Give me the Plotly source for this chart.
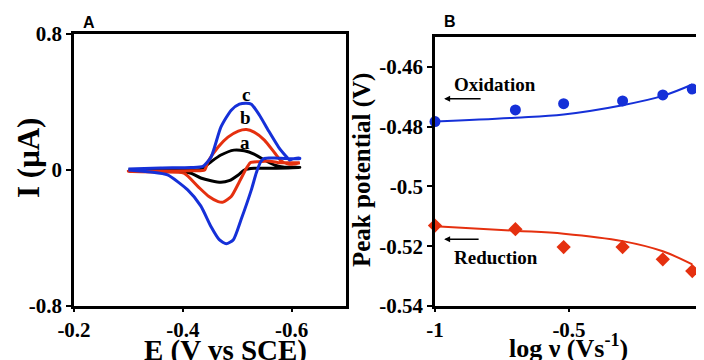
import plotly.graph_objects as go

# ---------- Panel A: cyclic voltammograms ----------
E_a = [-0.300, -0.415, -0.433, -0.452, -0.470, -0.494, -0.513, -0.531, -0.550, -0.569, -0.587, -0.615,
       -0.615, -0.557, -0.531, -0.513, -0.502, -0.485, -0.470, -0.452, -0.433, -0.415, -0.387, -0.300]
I_a = [0.000, 0.000, 0.003, 0.049, 0.088, 0.117, 0.113, 0.094, 0.059, 0.029, 0.016, 0.016,
       0.015, 0.010, 0.010, 0.000, -0.029, -0.063, -0.072, -0.063, -0.047, -0.019, -0.006, -0.003]

E_b = [-0.300, -0.359, -0.415, -0.440, -0.446, -0.465, -0.483, -0.502, -0.517, -0.531, -0.550, -0.569,
       -0.581, -0.594, -0.604, -0.615,
       -0.615, -0.576, -0.557, -0.539, -0.524, -0.517, -0.504, -0.489, -0.474, -0.465, -0.448, -0.428,
       -0.402, -0.359, -0.300]
I_b = [-0.009, -0.006, -0.004, 0.000, 0.047, 0.135, 0.193, 0.229, 0.238, 0.223, 0.176, 0.100,
       0.053, 0.035, 0.035, 0.043,
       0.043, 0.043, 0.053, 0.049, 0.043, 0.010, -0.069, -0.156, -0.189, -0.186, -0.156, -0.098,
       -0.019, -0.012, -0.009]

E_c = [-0.300, -0.359, -0.415, -0.437, -0.452, -0.470, -0.489, -0.504, -0.517, -0.526, -0.541, -0.557,
       -0.576, -0.591, -0.596, -0.604, -0.615,
       -0.615, -0.591, -0.569, -0.550, -0.543, -0.535, -0.526, -0.507, -0.493, -0.480, -0.467, -0.452,
       -0.433, -0.409, -0.372, -0.341, -0.300]
I_c = [0.006, 0.012, 0.015, 0.021, 0.076, 0.252, 0.352, 0.387, 0.393, 0.387, 0.322, 0.234,
       0.135, 0.076, 0.059, 0.067, 0.070,
       0.067, 0.067, 0.070, 0.069, 0.047, -0.018, -0.117, -0.293, -0.410, -0.434, -0.410, -0.334,
       -0.211, -0.117, -0.029, -0.012, 0.000]

# ---------- Panel B: peak potential vs log scan rate ----------
log_v = [-1.0, -0.70, -0.52, -0.30, -0.15, -0.04]
E_ox = [-0.4783, -0.4744, -0.4723, -0.4714, -0.4694, -0.4674]
E_red = [-0.5131, -0.5143, -0.5203, -0.5203, -0.5244, -0.5283]
fit_x = [-1.0, -0.70, -0.52, -0.30, -0.15, -0.04]
fit_ox = [-0.4783, -0.4770, -0.4759, -0.4728, -0.4697, -0.4659]
fit_red = [-0.5133, -0.5148, -0.5158, -0.5183, -0.5217, -0.5261]

BLUE = "#1530d8"
RED = "#e5300f"
SERIF = "Liberation Serif"

# page has an 8px body margin; figure sized to fill the rest of the window
OFF = 8
W, H = 704 - OFF, 360 - OFF
X = lambda p: (p - OFF) / W
Y = lambda p: 1 - (p - OFF) / H

fig = go.Figure()
for E, I, col in [(E_a, I_a, "black"), (E_b, I_b, RED), (E_c, I_c, BLUE)]:
    fig.add_trace(go.Scatter(x=E, y=I, mode="lines", line=dict(color=col, width=3, shape="spline", smoothing=0.6),
                             showlegend=False, xaxis="x", yaxis="y"))

fig.add_trace(go.Scatter(x=fit_x, y=fit_ox, mode="lines", line=dict(color=BLUE, width=2, shape="spline"),
                         showlegend=False, xaxis="x2", yaxis="y2"))
fig.add_trace(go.Scatter(x=fit_x, y=fit_red, mode="lines", line=dict(color=RED, width=2, shape="spline"),
                         showlegend=False, xaxis="x2", yaxis="y2"))
fig.add_trace(go.Scatter(x=log_v, y=E_ox, mode="markers", marker=dict(color=BLUE, size=11, symbol="circle"),
                         cliponaxis=False, showlegend=False, xaxis="x2", yaxis="y2"))
fig.add_trace(go.Scatter(x=log_v, y=E_red, mode="markers", marker=dict(color=RED, size=11, symbol="diamond"),
                         cliponaxis=False, showlegend=False, xaxis="x2", yaxis="y2"))

axis_common = dict(showline=True, linewidth=2.5, linecolor="black", mirror=True, ticks="outside",
                   tickwidth=2, tickcolor="black", showgrid=False, zeroline=False,
                   automargin=False,
                   tickfont=dict(family=SERIF, size=21, color="black", weight="bold"))

fig.update_layout(
    width=W, height=H, margin=dict(l=0, r=0, t=0, b=0, pad=0, autoexpand=False),
    paper_bgcolor="white", plot_bgcolor="white",
    xaxis=dict(domain=[X(74), X(346)], range=[-0.2, -0.7], tickvals=[-0.2, -0.4, -0.6],
               ticktext=["-0.2", "-0.4", "-0.6"], anchor="y", ticklen=3, **axis_common),
    yaxis=dict(domain=[Y(306), Y(34)], range=[-0.8, 0.8], tickvals=[-0.8, 0, 0.8],
               ticktext=["-0.8", "0", "0.8"], anchor="x", ticklen=5, **axis_common),
    xaxis2=dict(domain=[X(435), X(703)], range=[-1, 0], tickvals=[-1, -0.5, 0],
                ticktext=["-1", "-0.5", "0"], anchor="y2", ticklen=3, **axis_common),
    yaxis2=dict(domain=[Y(306), Y(37)], range=[-0.54, -0.45], tickvals=[-0.54, -0.52, -0.5, -0.48, -0.46],
                ticktext=["-0.54", "-0.52", "-0.5", "-0.48", "-0.46"], anchor="x2", ticklen=5,
                **axis_common),
)

bold_serif = lambda s: dict(family=SERIF, size=s, color="black", weight="bold")
C = dict(xanchor="center", yanchor="middle", showarrow=False)
ann = [
    dict(text="A", x=X(89), y=Y(23), xref="paper", yref="paper",
         font=dict(family="Liberation Sans", size=16, color="black", weight="bold"), **C),
    dict(text="B", x=X(450), y=Y(21), xref="paper", yref="paper",
         font=dict(family="Liberation Sans", size=16, color="black", weight="bold"), **C),
    dict(text="I (μA)", x=X(28), y=Y(158), xref="paper", yref="paper", textangle=-90, font=bold_serif(31), **C),
    dict(text="E (V vs SCE)", x=X(225), y=Y(350), xref="paper", yref="paper", font=bold_serif(29), **C),
    dict(text="Peak potential (V)", x=X(362), y=Y(170), xref="paper", yref="paper", textangle=-90,
         font=bold_serif(25), **C),
    dict(text="log ν (Vs<sup>-1</sup>)", x=X(568), y=Y(346), xref="paper", yref="paper",
         font=bold_serif(26), **C),
    dict(text="c", x=-0.517, y=0.445, xref="x", yref="y", font=bold_serif(19), **C),
    dict(text="b", x=-0.515, y=0.311, xref="x", yref="y", font=bold_serif(19), **C),
    dict(text="a", x=-0.515, y=0.164, xref="x", yref="y", font=bold_serif(19), **C),
    dict(text="Oxidation", x=-0.776, y=-0.466, xref="x2", yref="y2", font=bold_serif(19), **C),
    dict(text="Reduction", x=-0.772, y=-0.5237, xref="x2", yref="y2", font=bold_serif(19), **C),
    dict(text="", x=-0.966, y=-0.4707, xref="x2", yref="y2", showarrow=True, ax=38, ay=0,
         arrowhead=2, arrowsize=0.8, arrowwidth=1.5, arrowcolor="black"),
    dict(text="", x=-0.966, y=-0.5177, xref="x2", yref="y2", showarrow=True, ax=36, ay=0,
         arrowhead=2, arrowsize=0.8, arrowwidth=1.5, arrowcolor="black"),
]
fig.update_layout(annotations=ann)

fig.write_html("out.html")
